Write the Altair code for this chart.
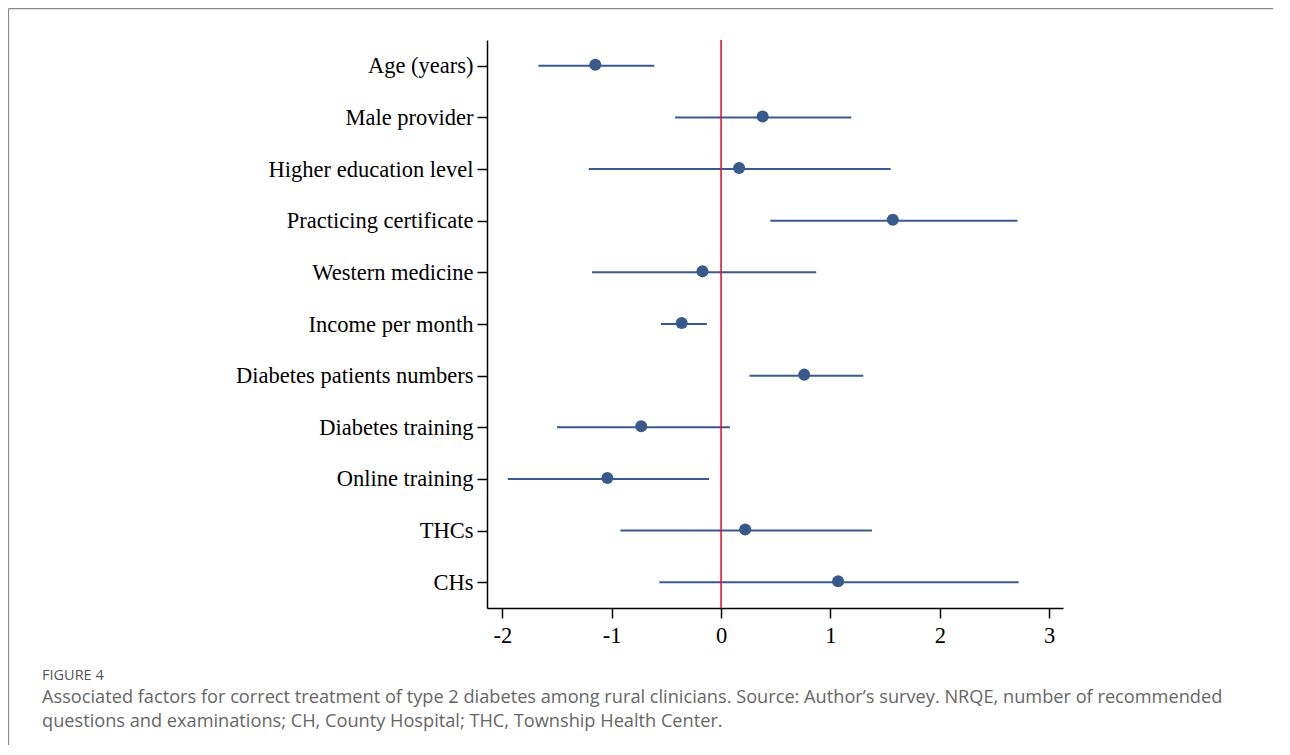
import altair as alt
import pandas as pd

factors = ["Age (years)", "Male provider", "Higher education level",
           "Practicing certificate\u00a0", "Western medicine", "Income per month",
           "Diabetes patients numbers", "Diabetes training", "Online training",
           "THCs", "CHs"]
estimates = [-1.15, 0.38, 0.165, 1.57, -0.17, -0.36, 0.76, -0.73, -1.04, 0.22, 1.07]
lower = [-1.67, -0.42, -1.21, 0.45, -1.18, -0.55, 0.26, -1.50, -1.95, -0.92, -0.565]
upper = [-0.61, 1.19, 1.55, 2.71, 0.87, -0.13, 1.30, 0.08, -0.11, 1.38, 2.72]
x_ticks = [-2, -1, 0, 1, 2, 3]
ref_value = [0]

caption_title = "FIGURE 4"
caption_line1 = "Associated factors for correct treatment of type 2 diabetes among rural clinicians. Source: Author\u2019s survey. NRQE, number of recommended"
caption_line2 = "questions and examinations; CH, County Hospital; THC, Township Health Center."

df = pd.DataFrame({"factor": factors, "est": estimates, "lo": lower, "hi": upper})
ref_df = pd.DataFrame({"x": ref_value})
one = pd.DataFrame({"a": [0]})

BLUE = "#3a5a8e"
RED = "#e0143c"
SERIF = "Liberation Serif"

xscale = alt.Scale(domain=[-2.14, 3.126], nice=False, zero=False)
yscale = alt.Scale(type="point", domain=factors, padding=0.5)

xaxis = alt.Axis(values=x_ticks, title=None, grid=False, labelExpr="'' + datum.value",
                 labelFont=SERIF, labelFontSize=22.5, labelColor="black",
                 tickSize=10, tickColor="black", tickWidth=1.5,
                 domainColor="black", domainWidth=1.5, labelPadding=6)
yaxis = alt.Axis(title=None, grid=False, labelFont=SERIF, labelFontSize=22.5,
                 labelColor="black", tickSize=10, tickColor="black", tickWidth=1.5,
                 domainColor="black", domainWidth=1.5, labelPadding=4, labelLimit=0)

base = alt.Chart(df)

ci = base.mark_rule(color=BLUE, strokeWidth=2).encode(
    y=alt.Y("factor:N", scale=yscale, axis=yaxis, sort=factors),
    x=alt.X("lo:Q", scale=xscale, axis=xaxis),
    x2="hi:Q",
)

ref = alt.Chart(ref_df).mark_rule(color=RED, strokeWidth=1.6).encode(
    x=alt.X("x:Q", scale=xscale, axis=xaxis)
)

pts = base.mark_circle(color=BLUE, opacity=1, size=145, yOffset=-1).encode(
    y=alt.Y("factor:N", scale=yscale, axis=yaxis, sort=factors),
    x=alt.X("est:Q", scale=xscale, axis=xaxis),
)

frame_top = alt.Chart(one).mark_rule(color="#8a8a8a", strokeWidth=1.2).encode(
    x=alt.value(-478.5), x2=alt.value(900), y=alt.value(-31.4)
)
frame_left = alt.Chart(one).mark_rule(color="#8a8a8a", strokeWidth=1.2).encode(
    x=alt.value(-478.5), y=alt.value(-31.4), y2=alt.value(740)
)


def caption(text, size, color, ypos):
    return alt.Chart(pd.DataFrame({"t": [text]})).mark_text(
        align="left", baseline="middle", font="Open Sans", fontSize=size,
        color=color
    ).encode(text="t:N", x=alt.value(-445), y=alt.value(ypos))


cap_head = caption(caption_title, 14.5, "#555555", 636)
cap_l1 = caption(caption_line1, 18.2, "#666666", 658)
cap_l2 = caption(caption_line2, 18.2, "#666666", 682)

chart = alt.layer(ci, ref, pts, frame_top, frame_left, cap_head, cap_l1, cap_l2).properties(
    width=576,
    height=568,
    autosize=alt.AutoSizeParams(type="none"),
    padding={"left": 479, "top": 32, "right": 210, "bottom": 137},
).configure(background="white", view=alt.ViewConfig(stroke=None))

chart.save("out.html", embed_options={"renderer": "svg", "actions": False})
